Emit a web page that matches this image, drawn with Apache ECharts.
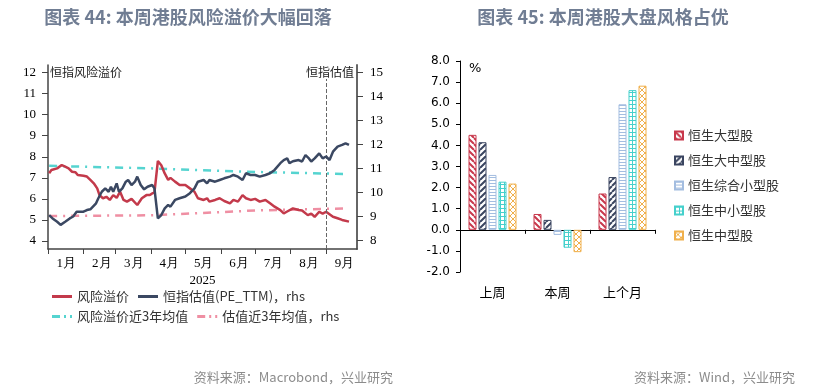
<!DOCTYPE html>
<html><head><meta charset="utf-8">
<script src="https://cdn.jsdelivr.net/npm/echarts@6/dist/echarts.min.js"></script>
<style>html,body{margin:0;padding:0;background:#fff}#c{width:820px;height:390px}</style>
</head><body><div id="c"></div>
<script>
// ---------- Left chart data ----------
const monthLabels = ['1月','2月','3月','4月','5月','6月','7月','8月','9月'];
const axisStart = '2025-01-01';
const axisEnd = '2025-09-28';
const riskPremium = [
 ['01-02',7.22],['01-04',7.37],['01-09',7.45],['01-13',7.61],['01-16',7.53],['01-19',7.45],['01-22',7.29],
 ['01-25',7.27],['01-27',7.13],['02-01',7.10],['02-04',7.06],['02-07',6.90],['02-10',6.74],['02-13',6.50],
 ['02-15',6.18],['02-18',6.03],['02-21',6.10],['02-24',5.95],['02-27',6.18],['03-02',6.05],['03-05',6.34],
 ['03-08',5.95],['03-11',5.87],['03-15',6.00],['03-20',5.71],['03-24',6.03],['03-28',6.18],['03-31',6.18],
 ['04-02',6.26],['04-04',6.30],['04-07',7.80],['04-10',7.60],['04-13',7.21],['04-16',6.90],['04-18',7.00],
 ['04-22',6.82],['04-26',6.66],['05-01',6.66],['05-05',6.50],['05-09',6.34],['05-12',6.03],['05-17',5.95],
 ['05-20',6.03],['05-22',5.87],['05-27',5.95],['05-31',6.03],['06-04',5.90],['06-09',5.79],['06-12',5.95],
 ['06-16',5.87],['06-20',6.18],['06-23',6.03],['06-27',5.95],['07-01',6.00],['07-05',5.87],['07-10',5.95],
 ['07-14',5.79],['07-18',5.63],['07-23',5.47],['07-26',5.31],['07-29',5.40],['08-03',5.55],['08-08',5.47],
 ['08-11',5.45],['08-16',5.23],['08-19',5.30],['08-22',5.15],['08-26',5.39],['08-29',5.30],['09-01',5.39],
 ['09-07',5.15],['09-11',5.08],['09-15',5.00],['09-21',4.92]
];
const peTTM = [
 ['01-02',9.06],['01-05',8.92],['01-09',8.78],['01-12',8.65],['01-16',8.78],['01-20',8.92],['01-23',9.00],
 ['01-26',9.20],['02-01',9.20],['02-04',9.27],['02-07',9.30],['02-12',9.55],['02-14',9.76],['02-17',10.03],
 ['02-20',10.17],['02-23',10.03],['02-25',10.24],['02-27',10.03],['03-02',10.38],['03-04',10.03],['03-07',10.17],
 ['03-10',10.45],['03-12',10.52],['03-15',10.31],['03-18',10.45],['03-20',10.66],['03-23',10.31],['03-26',10.13],
 ['03-29',10.24],['04-02',10.31],['04-04',10.17],['04-07',8.92],['04-10',9.06],['04-13',9.34],['04-16',9.48],
 ['04-18',9.41],['04-22',9.69],['04-26',9.76],['05-01',9.83],['05-05',9.97],['05-09',10.17],['05-12',10.45],
 ['05-17',10.52],['05-20',10.38],['05-22',10.52],['05-27',10.45],['05-31',10.52],['06-04',10.59],['06-09',10.66],
 ['06-12',10.73],['06-16',10.66],['06-20',10.52],['06-23',10.80],['06-27',10.73],['07-01',10.73],['07-05',10.66],
 ['07-10',10.73],['07-14',10.80],['07-18',10.94],['07-23',11.22],['07-26',11.35],['07-29',11.42],['07-31',11.22],
 ['08-03',11.30],['08-08',11.35],['08-11',11.29],['08-14',11.56],['08-17',11.42],['08-19',11.29],['08-22',11.42],
 ['08-26',11.63],['08-29',11.42],['09-01',11.50],['09-04',11.35],['09-07',11.70],['09-11',11.91],['09-15',11.98],
 ['09-18',12.05],['09-19',12.12],['09-21',11.98]
];
const riskAvg3y = [['01-02',7.57],['04-01',7.45],['07-01',7.28],['09-21',7.18]];
const peAvg3y = [['01-02',9.02],['04-01',9.05],['07-01',9.25],['09-21',9.34]];
const leftTicks = [4,5,6,7,8,9,10,11,12];
const rightTicks = [8,9,10,11,12,13,14,15];

// ---------- Right chart data ----------
const barCategories = ['上周','本周','上个月'];
const hsLarge     = [4.50, 0.75, 1.72];
const hsLargeMid  = [4.15, 0.47, 2.50];
const hsCompSmall = [2.60, -0.24, 5.95];
const hsMidSmall  = [2.28, -0.85, 6.62];
const hsMid       = [2.19, -1.06, 6.83];

// ---------- helpers ----------
const days = [];
for (let t = Date.parse(axisStart + 'T00:00:00Z'); t <= Date.parse(axisEnd + 'T00:00:00Z'); t += 86400000) {
  days.push(new Date(t).toISOString().slice(0, 10));
}
const toPairs = arr => arr.map(([d, v]) => ['2025-' + d, v]);

function pat(kind, color) {
  const s = kind === 'hline' ? 3 : (kind === 'grid' ? 4 : 6);
  const c = document.createElement('canvas'); c.width = s; c.height = s;
  const g = c.getContext('2d');
  g.fillStyle = '#fff'; g.fillRect(0, 0, s, s);
  g.strokeStyle = color; g.fillStyle = color;
  if (kind === 'back' || kind === 'fwd' || kind === 'cross') {
    g.lineWidth = kind === 'cross' ? 1 : 2;
    g.beginPath();
    for (const k of [-s, 0, s]) {
      if (kind !== 'fwd') { g.moveTo(k, 0); g.lineTo(k + s, s); }
      if (kind !== 'back') { g.moveTo(k, s); g.lineTo(k + s, 0); }
    }
    g.stroke();
  } else if (kind === 'hline') {
    g.fillRect(0, 0, s, 1);
  } else if (kind === 'grid') {
    g.fillRect(0, 0, s, 1); g.fillRect(0, 0, 1, s);
  }
  return { image: c, repeat: 'repeat' };
}

const serif = 'Liberation Serif';
const cjk = 'Noto Sans CJK SC';
const axisCol = '#444';
const red = '#c33a4b', navy = '#3b4862', cyan = '#55d4d0', pink = '#ef8fa3';
const solidIcon = 'path://M0,0H20V3H0Z';
const dashDotIcon = 'path://M0,0H8V3H0Z M12,0H14V3H12Z M18,0H20V3H18Z';

function barSeries(name, data, kind, color) {
  return {
    name, type: 'bar', xAxisIndex: 1, yAxisIndex: 2, data,
    barWidth: 8, barGap: '25%',
    itemStyle: { color: pat(kind, color), borderColor: color, borderWidth: 1 }
  };
}

const chart = echarts.init(document.getElementById('c'), null, { renderer: 'canvas' });
chart.setOption({
  animation: false,
  backgroundColor: '#fff',
  grid: [
    { left: 48, top: 65, width: 309, height: 184 },
    { left: 460, top: 61, width: 195, height: 211 }
  ],
  legend: [
    { data: [{ name: '风险溢价', icon: solidIcon }, { name: '恒指估值(PE_TTM)，rhs', icon: solidIcon }],
      left: 47, top: 285, itemWidth: 20, itemHeight: 3, itemGap: 9,
      textStyle: { fontFamily: cjk, fontSize: 13, color: '#333' } },
    { data: [{ name: '风险溢价近3年均值', icon: dashDotIcon }, { name: '估值近3年均值，rhs', icon: dashDotIcon }],
      left: 47, top: 305, itemWidth: 20, itemHeight: 3, itemGap: 9,
      textStyle: { fontFamily: cjk, fontSize: 13, color: '#333' } },
    { data: ['恒生大型股','恒生大中型股','恒生综合小型股','恒生中小型股','恒生中型股'], orient: 'vertical',
      icon: 'rect', left: 669, top: 124, itemWidth: 8, itemHeight: 8, itemGap: 12,
      textStyle: { fontFamily: cjk, fontSize: 13, color: '#333' } }
  ],
  xAxis: [
    { type: 'category', gridIndex: 0, data: days, boundaryGap: false,
      axisLine: { lineStyle: { color: axisCol, width: 1.5 } },
      axisTick: { interval: (i, v) => v.slice(8) === '01', length: 5, lineStyle: { color: axisCol } },
      axisLabel: { interval: (i, v) => v.slice(8) === '17', formatter: v => monthLabels[+v.slice(5, 7) - 1],
        fontFamily: serif, fontSize: 13, color: '#000', margin: 8 },
      name: '2025', nameLocation: 'middle', nameGap: 25,
      nameTextStyle: { fontFamily: serif, fontSize: 13, color: '#000' },
      splitLine: { show: false } },
    { type: 'category', gridIndex: 1, data: barCategories,
      axisLine: { onZero: true, lineStyle: { color: '#000', width: 1 } },
      axisTick: { show: true, alignWithLabel: false, length: 4, lineStyle: { color: '#000' } },
      axisLabel: { show: false }, splitLine: { show: false } },
    { type: 'category', gridIndex: 1, data: barCategories, position: 'bottom',
      axisLine: { show: false, onZero: false }, axisTick: { show: false },
      axisLabel: { show: true, margin: 14, fontFamily: cjk, fontSize: 13, color: '#000' },
      splitLine: { show: false } }
  ],
  yAxis: [
    { type: 'value', gridIndex: 0, position: 'left', min: 3.62, max: 12.36, splitNumber: 8,
      axisLine: { show: true, lineStyle: { color: axisCol, width: 1.5 } },
      axisTick: { show: true, length: 6, customValues: leftTicks, lineStyle: { color: axisCol } },
      axisLabel: { customValues: leftTicks, formatter: v => Number.isInteger(v) ? String(v) : '',
        fontFamily: serif, fontSize: 13, color: '#000', margin: 12 },
      splitLine: { show: false } },
    { type: 'value', gridIndex: 0, position: 'right', min: 7.646, max: 15.31, splitNumber: 7,
      axisLine: { show: true, lineStyle: { color: '#666', width: 2 } },
      axisTick: { show: true, length: 6, customValues: rightTicks, lineStyle: { color: axisCol } },
      axisLabel: { customValues: rightTicks, formatter: v => Number.isInteger(v) ? String(v) : '',
        fontFamily: serif, fontSize: 13, color: '#000', margin: 13 },
      splitLine: { show: false } },
    { type: 'value', gridIndex: 1, min: -2, max: 8, interval: 1,
      axisLine: { show: true, lineStyle: { color: '#000', width: 1 } },
      axisTick: { show: true, length: 4, lineStyle: { color: '#000' } },
      axisLabel: { formatter: v => v.toFixed(1), fontFamily: 'DejaVu Sans', fontSize: 12, color: '#000', margin: 10 },
      splitLine: { show: false } }
  ],
  series: [
    { name: '风险溢价', type: 'line', xAxisIndex: 0, yAxisIndex: 0, data: toPairs(riskPremium),
      showSymbol: false, symbol: 'none', lineStyle: { color: red, width: 2.5 }, itemStyle: { color: red }, z: 4,
      markLine: { silent: true, symbol: 'none', label: { show: false },
        lineStyle: { type: 'dashed', color: '#666', width: 1 }, data: [{ xAxis: '2025-09-01' }] } },
    { name: '恒指估值(PE_TTM)，rhs', type: 'line', xAxisIndex: 0, yAxisIndex: 1, data: toPairs(peTTM),
      showSymbol: false, symbol: 'none', lineStyle: { color: navy, width: 2.5 }, itemStyle: { color: navy }, z: 5 },
    { name: '风险溢价近3年均值', type: 'line', xAxisIndex: 0, yAxisIndex: 0, data: toPairs(riskAvg3y),
      showSymbol: false, symbol: 'none', lineStyle: { color: cyan, width: 2.5, type: [8, 6, 2, 6] }, itemStyle: { color: cyan }, z: 3 },
    { name: '估值近3年均值，rhs', type: 'line', xAxisIndex: 0, yAxisIndex: 1, data: toPairs(peAvg3y),
      showSymbol: false, symbol: 'none', lineStyle: { color: pink, width: 2.5, type: [8, 6, 2, 6] }, itemStyle: { color: pink }, z: 3 },
    barSeries('恒生大型股', hsLarge, 'back', '#c8384c'),
    barSeries('恒生大中型股', hsLargeMid, 'fwd', '#3a4560'),
    barSeries('恒生综合小型股', hsCompSmall, 'hline', '#a3bde0'),
    barSeries('恒生中小型股', hsMidSmall, 'grid', '#45d0cc'),
    barSeries('恒生中型股', hsMid, 'cross', '#f0b04c')
  ],
  graphic: [
    { type: 'text', z: 100, style: { text: '图表 44: 本周港股风险溢价大幅回落', x: 188, y: 17, textAlign: 'center', textVerticalAlign: 'middle', verticalAlign: 'middle',
      font: 'bold 18px "Noto Sans CJK SC"', fill: '#707d93' } },
    { type: 'text', z: 100, style: { text: '图表 45: 本周港股大盘风格占优', x: 603, y: 17, textAlign: 'center', textVerticalAlign: 'middle', verticalAlign: 'middle',
      font: 'bold 18px "Noto Sans CJK SC"', fill: '#707d93' } },
    { type: 'text', z: 100, style: { text: '恒指风险溢价', x: 50, y: 72, textAlign: 'left', textVerticalAlign: 'middle', verticalAlign: 'middle',
      font: '12px "Noto Sans CJK SC"', fill: '#222' } },
    { type: 'text', z: 100, style: { text: '恒指估值', x: 355, y: 72, textAlign: 'right', textVerticalAlign: 'middle', verticalAlign: 'middle',
      font: '12px "Noto Sans CJK SC"', fill: '#222', backgroundColor: '#fff', padding: [1, 1] } },
    { type: 'text', z: 100, style: { text: '%', x: 469, y: 69, textAlign: 'left', textVerticalAlign: 'middle', verticalAlign: 'middle',
      font: '13px "DejaVu Sans"', fill: '#000' } },
    { type: 'text', z: 100, style: { text: '资料来源：Macrobond，兴业研究', x: 393, y: 377, textAlign: 'right', textVerticalAlign: 'middle', verticalAlign: 'middle',
      font: '13px "Noto Sans CJK SC"', fill: '#8c8c8c' } },
    { type: 'text', z: 100, style: { text: '资料来源：Wind，兴业研究', x: 795, y: 377, textAlign: 'right', textVerticalAlign: 'middle', verticalAlign: 'middle',
      font: '13px "Noto Sans CJK SC"', fill: '#8c8c8c' } }
  ]
});
</script></body></html>
